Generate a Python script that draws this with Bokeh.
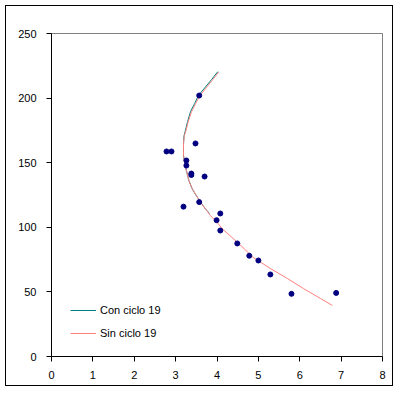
from bokeh.plotting import figure
from bokeh.models import Range1d, FixedTicker, Legend, LegendItem
from bokeh.embed import file_html
from bokeh.resources import INLINE

# Observed points
obs_x = [3.57, 2.78, 2.90, 3.48, 3.26, 3.26, 3.38, 3.38, 3.70, 3.19, 3.57,
         4.08, 3.99, 4.08, 4.49, 4.78, 5.00, 5.29, 5.80, 6.88]
obs_y = [202, 158.7, 158.7, 164.9, 151.7, 147.8, 141.6, 140.5, 139.3, 116, 119.5,
         110.7, 105.5, 97.5, 87.5, 78.0, 74.3, 63.5, 48.5, 49.2]

# Curve "Con ciclo 19"
con_x = [4.02, 3.87, 3.70, 3.55, 3.46, 3.36, 3.29, 3.23, 3.20, 3.19, 3.19, 3.21,
         3.26, 3.32, 3.40, 3.49, 3.60, 3.72, 3.82]
con_y = [220.5, 214.4, 207.8, 202.0, 195.8, 189.6, 181.9, 174.2, 170.3, 163.3, 155.6, 151.7,
         144.0, 136.2, 129.8, 125.0, 119.6, 114.2, 110.7]

# Curve "Sin ciclo 19"
sin_x = [4.04, 3.88, 3.72, 3.58, 3.48, 3.38, 3.30, 3.24, 3.21, 3.19, 3.19, 3.19, 3.21,
         3.26, 3.32, 3.40, 3.50, 3.60, 3.72, 3.84, 4.00, 4.13, 4.50, 4.88, 5.29, 5.70,
         6.09, 6.50, 6.79]
sin_y = [220.0, 213.6, 207.2, 201.5, 195.6, 189.1, 181.3, 173.6, 171.1, 164.9, 159.4, 155.6, 151.7,
         144.0, 136.2, 129.8, 124.6, 119.4, 114.3, 109.1, 103.9, 98.8, 88.2, 76.6, 68.1, 60.4,
         52.6, 44.9, 39.5]

x_ticks = [0, 1, 2, 3, 4, 5, 6, 7, 8]
y_ticks = [0, 50, 100, 150, 200, 250]

p = figure(width=388, height=381, output_backend="svg", toolbar_location=None,
           x_range=Range1d(0, 8), y_range=Range1d(0, 250),
           min_border_left=45, min_border_right=12, min_border_top=27, min_border_bottom=31)
p.styles = {"border": "1px solid black", "margin-left": "5px", "margin-top": "5px"}
p.xgrid.visible = False
p.ygrid.visible = False
p.outline_line_color = "#808080"
p.outline_line_width = 1
p.background_fill_color = "white"
p.border_fill_color = "white"

for ax in (p.xaxis[0], p.yaxis[0]):
    ax.axis_line_color = "black"
    ax.major_tick_line_color = "black"
    ax.major_tick_in = 0
    ax.major_tick_out = 5
    ax.minor_tick_line_color = None
    ax.major_label_text_font = "Liberation Sans"
    ax.major_label_text_font_size = "11px"
    ax.major_label_text_color = "black"
p.xaxis.ticker = FixedTicker(ticks=x_ticks)
p.yaxis.ticker = FixedTicker(ticks=y_ticks)
p.xaxis.major_label_standoff = 9
p.yaxis.major_label_standoff = 10

r_con = p.line(con_x, con_y, line_color="#008080", line_width=1)
r_sin = p.line(sin_x, sin_y, line_color="#FF8080", line_width=1)
p.scatter(obs_x, obs_y, marker="circle", size=5, fill_color="#000080", line_color="#000080")

legend = Legend(items=[LegendItem(label="Con ciclo 19", renderers=[r_con]),
                       LegendItem(label="Sin ciclo 19", renderers=[r_sin])],
                location=(19, 16))
legend.border_line_color = None
legend.background_fill_alpha = 0
legend.label_text_font = "Liberation Sans"
legend.label_text_font_size = "11px"
legend.label_text_color = "black"
legend.glyph_width = 26
legend.glyph_height = 14
legend.label_height = 14
legend.label_standoff = 4
legend.spacing = 9
legend.padding = 5
legend.margin = 0
p.add_layout(legend, "center")

open("out.html", "w").write(file_html(p, INLINE))
